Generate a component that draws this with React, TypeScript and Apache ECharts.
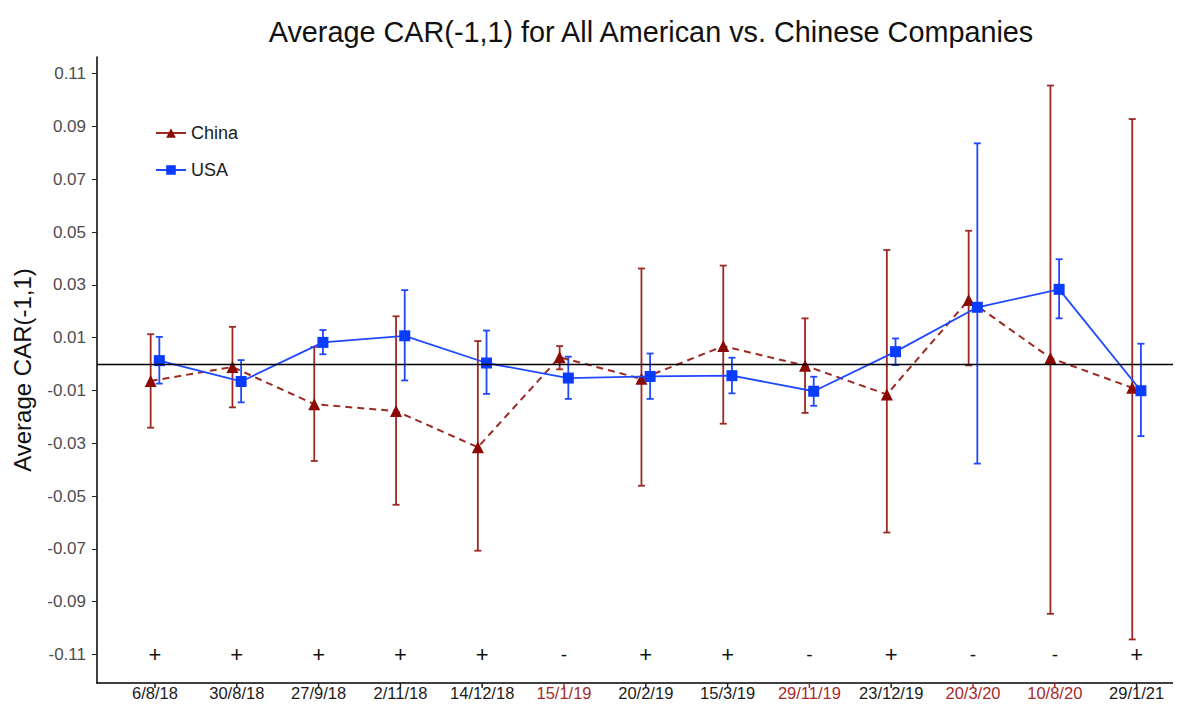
import React, { useEffect, useRef } from "react";
import * as echarts from "echarts";

const dates = ["6/8/18", "30/8/18", "27/9/18", "2/11/18", "14/12/18", "15/1/19", "20/2/19", "15/3/19", "29/11/19", "23/12/19", "20/3/20", "10/8/20", "29/1/21"];
const signs = ["+", "+", "+", "+", "+", "-", "+", "+", "-", "+", "-", "-", "+"];

const chinaMean = [-0.0064, -0.0011, -0.0152, -0.0178, -0.0315, 0.0026, -0.0056, 0.0068, -0.0006, -0.0115, 0.0243, 0.0023, -0.009];
const chinaUpper = [0.0113, 0.0141, 0.0065, 0.0181, 0.0087, 0.0068, 0.0362, 0.0373, 0.0173, 0.0432, 0.0505, 0.1055, 0.0928];
const chinaLower = [-0.0241, -0.0164, -0.0367, -0.0533, -0.0707, -0.002, -0.0461, -0.0226, -0.0185, -0.0638, -0.0005, -0.0946, -0.1043];

const usaMean = [0.0013, -0.0066, 0.0082, 0.0107, 0.0004, -0.0053, -0.0047, -0.0044, -0.0103, 0.0047, 0.0215, 0.0283, -0.0101];
const usaUpper = [0.0103, 0.0015, 0.0129, 0.028, 0.0127, 0.0028, 0.004, 0.0024, -0.0048, 0.0097, 0.0836, 0.0397, 0.0077];
const usaLower = [-0.0074, -0.0145, 0.0037, -0.0062, -0.0113, -0.0132, -0.0132, -0.0111, -0.0158, -0.0004, -0.0377, 0.0173, -0.0273];

const yTicks = [-0.11, -0.09, -0.07, -0.05, -0.03, -0.01, 0.01, 0.03, 0.05, 0.07, 0.09, 0.11];
const signY = -0.11;
const Y_MIN = -0.1208;
const Y_MAX = 0.1163;

const FONT = "Liberation Sans, Arial, Helvetica, sans-serif";
const CHINA = "#8b0a05";
const CHINA_LINE = "#9c2a22";
const USA = "#0a3cff";
const USA_LINE = "#2048ff";
const RED_LABEL = "#a52a2a";
const DODGE = 0.053;

function errorBarRender(color: string) {
  return (params: any, api: any) => {
    const x = api.value(0);
    const lo = api.value(1);
    const hi = api.value(2);
    const pHi = api.coord([x, hi]);
    const pLo = api.coord([x, lo]);
    const cap = 3.5;
    const style = { stroke: color, lineWidth: 1.8 };
    return {
      type: "group",
      children: [
        { type: "line", shape: { x1: pHi[0], y1: pHi[1], x2: pLo[0], y2: pLo[1] }, style },
        { type: "line", shape: { x1: pHi[0] - cap, y1: pHi[1], x2: pHi[0] + cap, y2: pHi[1] }, style },
        { type: "line", shape: { x1: pLo[0] - cap, y1: pLo[1], x2: pLo[0] + cap, y2: pLo[1] }, style },
      ],
    };
  };
}

export default function App() {
  const ref = useRef<HTMLDivElement>(null);
  useEffect(() => {
    if (!ref.current) return;
    const chart = echarts.init(ref.current, null, { renderer: "svg" });
    const idx = dates.map((_, i) => i);
    const redSet = new Set(idx.filter((i) => signs[i] === "-"));
    const option: any = {
      animation: false,
      backgroundColor: "#ffffff",
      textStyle: { fontFamily: FONT },
      title: {
        text: "Average CAR(-1,1) for All American vs. Chinese Companies",
        left: 646,
        textAlign: "center",
        top: 12,
        textStyle: { fontFamily: FONT, fontSize: 28.8, fontWeight: "normal", color: "#111" },
      },
      legend: {
        data: ["China", "USA"],
        orient: "vertical",
        left: 150,
        top: 119,
        itemWidth: 30,
        itemHeight: 12,
        itemGap: 19,
        textStyle: { fontFamily: FONT, fontSize: 18, color: "#1a1a1a" },
        lineStyle: { type: "solid" },
      },
      grid: { left: 97, right: 0, top: 57, bottom: 28, containLabel: false },
      xAxis: {
        type: "value",
        min: -0.709,
        max: 12.543,
        splitLine: { show: false },
        axisLine: { show: true, onZero: false, lineStyle: { color: "#000", width: 1.5 } },
        axisTick: { show: false },
        axisLabel: {
          customValues: idx,
          margin: 1,
          formatter: (v: number) => {
            const i = Math.round(v);
            return redSet.has(i) ? `{r|${dates[i]}}` : `{b|${dates[i]}}`;
          },
          rich: {
            r: { color: RED_LABEL, fontSize: 16.5, fontFamily: FONT },
            b: { color: "#1a1a1a", fontSize: 16.5, fontFamily: FONT },
          },
        },
      },
      yAxis: {
        type: "value",
        min: Y_MIN,
        max: Y_MAX,
        name: "Average CAR(-1,1)",
        nameLocation: "middle",
        nameRotate: 90,
        nameGap: 63,
        nameTextStyle: { fontFamily: FONT, fontSize: 24, color: "#111" },
        splitLine: { show: false },
        axisLine: { show: true, onZero: false, lineStyle: { color: "#000", width: 1.5 } },
        axisTick: { show: true, customValues: yTicks, length: 5, lineStyle: { color: "#222" } },
        axisLabel: {
          customValues: yTicks,
          margin: 11,
          fontSize: 17,
          color: "#4d4d4d",
          fontFamily: FONT,
          formatter: (v: number) => v.toFixed(2),
        },
      },
      series: [
        {
          name: "xticks",
          type: "custom",
          clip: false,
          silent: true,
          renderItem: (params: any, api: any) => {
            const p = api.coord([api.value(0), Y_MIN]);
            const red = signs[params.dataIndex] === "-";
            return {
              type: "line",
              shape: { x1: p[0], y1: p[1], x2: p[0], y2: p[1] + 5 },
              style: { stroke: red ? RED_LABEL : "#222", lineWidth: 1.5 },
            };
          },
          data: idx.map((i) => [i, Y_MIN]),
          encode: { x: 0, y: 1 },
          z: 1,
        },
        {
          name: "China err",
          type: "custom",
          renderItem: errorBarRender(CHINA_LINE),
          data: idx.map((i) => [i - DODGE, chinaLower[i], chinaUpper[i]]),
          encode: { x: 0, y: [1, 2] },
          z: 2,
        },
        {
          name: "USA err",
          type: "custom",
          renderItem: errorBarRender(USA_LINE),
          data: idx.map((i) => [i + DODGE, usaLower[i], usaUpper[i]]),
          encode: { x: 0, y: [1, 2] },
          z: 2,
        },
        {
          name: "China",
          type: "line",
          data: idx.map((i) => [i - DODGE, chinaMean[i]]),
          symbol: "triangle",
          symbolSize: 12,
          itemStyle: { color: CHINA },
          lineStyle: { color: CHINA_LINE, width: 2, type: [7, 5] },
          z: 3,
          markLine: {
            silent: true,
            symbol: "none",
            label: { show: false },
            lineStyle: { color: "#000", width: 1.3, type: "solid" },
            data: [{ yAxis: 0 }],
          },
        },
        {
          name: "USA",
          type: "line",
          data: idx.map((i) => [i + DODGE, usaMean[i]]),
          symbol: "rect",
          symbolSize: 11,
          itemStyle: { color: USA },
          lineStyle: { color: USA_LINE, width: 1.8 },
          z: 4,
        },
        {
          name: "signs",
          type: "custom",
          renderItem: (params: any, api: any) => {
            const p = api.coord([api.value(0), api.value(1)]);
            const s = signs[params.dataIndex];
            return {
              type: "text",
              x: p[0],
              y: p[1],
              style: {
                text: s,
                fontSize: s === "+" ? 22 : 19,
                fontFamily: FONT,
                fill: "#111",
                align: "center",
                verticalAlign: "middle",
              },
            };
          },
          data: idx.map((i) => [i, signY]),
          encode: { x: 0, y: 1 },
          z: 5,
        },
      ],
    };
    chart.setOption(option);
    return () => chart.dispose();
  }, []);
  return <div ref={ref} style={{ width: 1181, height: 711, margin: -8 }} />;
}
